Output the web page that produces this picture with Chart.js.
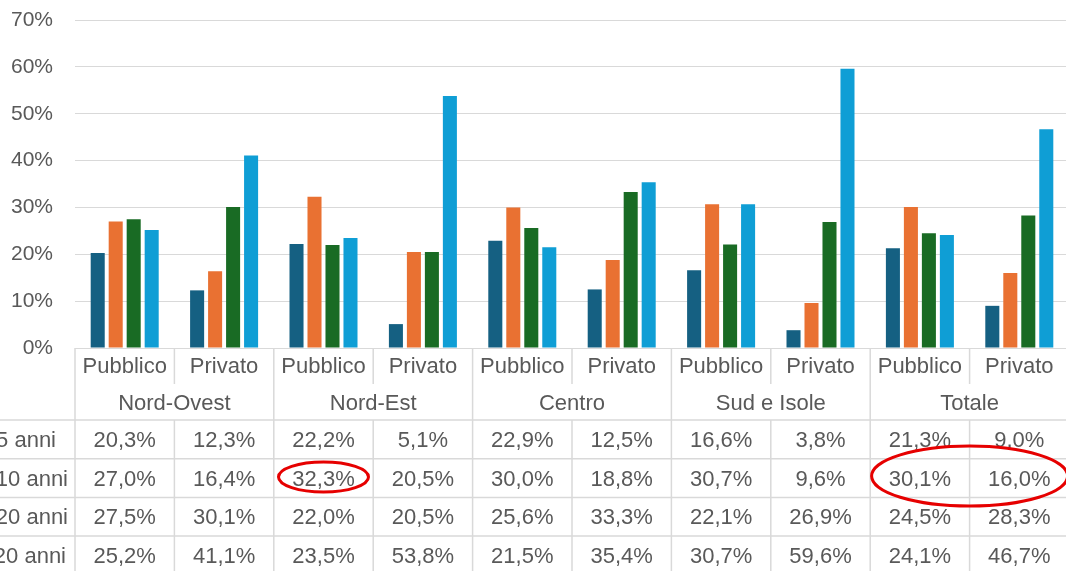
<!DOCTYPE html>
<html>
<head>
<meta charset="utf-8">
<script src="https://cdn.jsdelivr.net/npm/chart.js@4/dist/chart.umd.min.js"></script>
<style>
    html, body { margin: 0; padding: 0; background: #fff; overflow: hidden; }
    #wrap { position: relative; width: 1069px; height: 571px; }
</style>
</head>
<body>
<div id="wrap"><canvas id="chart"></canvas></div>
<script>
// Chart data
const subLabels = ["Pubblico", "Privato", "Pubblico", "Privato", "Pubblico", "Privato", "Pubblico", "Privato", "Pubblico", "Privato"];
const regions = ["Nord-Ovest", "Nord-Est", "Centro", "Sud e Isole", "Totale"];
const rowLabels = ["5 anni", "10 anni", "20 anni", "20 anni"];
const serie1 = [20.3, 12.3, 22.2, 5.1, 22.9, 12.5, 16.6, 3.8, 21.3, 9.0];
const serie2 = [27.0, 16.4, 32.3, 20.5, 30.0, 18.8, 30.7, 9.6, 30.1, 16.0];
const serie3 = [27.5, 30.1, 22.0, 20.5, 25.6, 33.3, 22.1, 26.9, 24.5, 28.3];
const serie4 = [25.2, 41.1, 23.5, 53.8, 21.5, 35.4, 30.7, 59.6, 24.1, 46.7];
const yTicks = [0, 10, 20, 30, 40, 50, 60, 70];

const colors = ["#156082", "#E97132", "#196B24", "#0F9ED5"];
const FONT = "'Liberation Sans', Arial, sans-serif";
const TEXT = "#595959";
const LINE = "#d9d9d9";

function fmt(v) {
    return v.toFixed(1).replace(".", ",") + "%";
}

// Draws the Excel-style data table under the plot, aligned to the x scale
const dataTablePlugin = {
    id: "dataTable",
    afterDraw(chart) {
        const ctx = chart.ctx;
        const x = chart.scales.x;
        const top = chart.chartArea.bottom;
        const H = chart.height;
        const n = subLabels.length;
        const colW = (x.right - x.left) / n;
        const edge = i => x.left + i * colW;
        const subEnd = top + 36;
        const regEnd = top + 72;
        const rowH = 38.7;
        const series = [serie1, serie2, serie3, serie4];

        ctx.save();
        ctx.strokeStyle = LINE;
        ctx.lineWidth = 1.5;
        ctx.beginPath();
        for (let r = 0; r <= series.length; r++) {
            const y = regEnd + r * rowH;
            ctx.moveTo(0, y);
            ctx.lineTo(x.right, y);
        }
        for (let i = 0; i <= n; i++) {
            const ex = edge(i);
            if (i % 2 === 0) {
                ctx.moveTo(ex, top);
                ctx.lineTo(ex, H);
            } else {
                ctx.moveTo(ex, top);
                ctx.lineTo(ex, subEnd);
                ctx.moveTo(ex, regEnd);
                ctx.lineTo(ex, H);
            }
        }
        ctx.stroke();

        ctx.fillStyle = TEXT;
        ctx.font = "22px " + FONT;
        ctx.textBaseline = "alphabetic";
        ctx.textAlign = "center";
        subLabels.forEach((lab, i) => {
            ctx.fillText(lab, x.getPixelForValue(i), top + 25);
        });
        regions.forEach((reg, r) => {
            ctx.fillText(reg, (edge(2 * r) + edge(2 * r + 2)) / 2, top + 62);
        });
        series.forEach((vals, r) => {
            const base = regEnd + r * rowH + 27;
            vals.forEach((v, i) => {
                ctx.fillText(fmt(v), x.getPixelForValue(i), base);
            });
        });

        // row labels (cut off at the left edge in the original)
        const labelRight = [56, 68, 68, 66];
        ctx.textAlign = "right";
        rowLabels.forEach((lab, r) => {
            ctx.fillText(lab, labelRight[r], regEnd + r * rowH + 27);
        });

        // red highlight ellipses
        const rowMid = r => regEnd + r * rowH + rowH / 2;
        ctx.strokeStyle = "#e60000";
        ctx.lineWidth = 3;
        ctx.beginPath();
        ctx.ellipse(x.getPixelForValue(2), rowMid(1) - 1, 45, 15, 0, 0, Math.PI * 2);
        ctx.stroke();
        ctx.beginPath();
        ctx.ellipse((x.getPixelForValue(8) + x.getPixelForValue(9)) / 2, rowMid(1) - 2, 98, 30, 0, 0, Math.PI * 2);
        ctx.stroke();
        ctx.restore();
    },
};

const ctx = document.getElementById("chart").getContext("2d");
new Chart(ctx, {
    type: "bar",
    data: {
        labels: subLabels,
        datasets: [serie1, serie2, serie3, serie4].map((d, k) => ({
            label: rowLabels[k],
            data: d,
            backgroundColor: colors[k],
            borderWidth: 0,
            categoryPercentage: 0.724,
            barPercentage: 0.78,
        })),
    },
    options: {
        responsive: true,
        maintainAspectRatio: false,
        animation: false,
        layout: { padding: { top: 20, left: 0, right: 0, bottom: 0 } },
        scales: {
            x: {
                ticks: { display: false },
                grid: { display: false },
                border: { display: false },
                afterFit: s => { s.height = 223; },
            },
            y: {
                min: 0,
                max: 70,
                afterBuildTicks: s => { s.ticks = yTicks.map(v => ({ value: v })); },
                ticks: {
                    padding: 22,
                    color: TEXT,
                    font: { size: 21, family: FONT },
                    callback: v => v + "%",
                },
                grid: { color: LINE, lineWidth: 1, drawTicks: false },
                border: { display: false },
                afterFit: s => {
                    s.width = 75;
                    s.paddingTop = 0;
                    s.paddingBottom = 0;
                },
            },
        },
        plugins: {
            legend: { display: false },
            tooltip: { enabled: false },
        },
    },
    plugins: [dataTablePlugin],
});
</script>
</body>
</html>
